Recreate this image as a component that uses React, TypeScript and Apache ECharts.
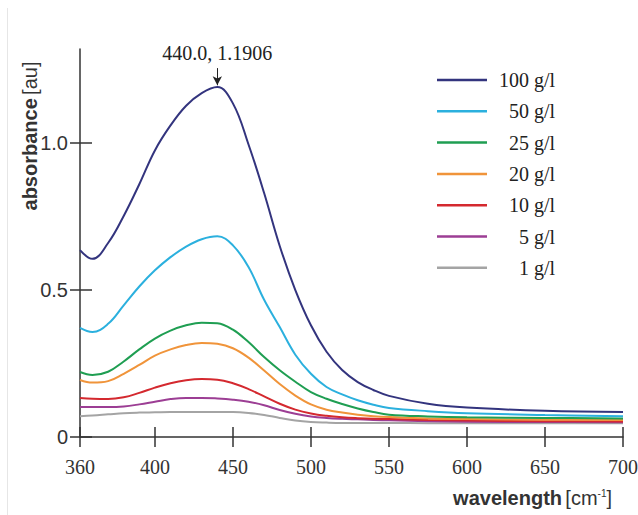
import React, { useEffect, useRef } from "react";
import * as echarts from "echarts";

const wavelengths = [352, 360, 370, 380, 390, 400, 410, 420, 430, 440, 450, 460, 470, 480, 490, 500, 510, 520, 530, 540, 550, 575, 600, 650, 700];

const s100 = [0.636, 0.606, 0.66, 0.752, 0.86, 0.975, 1.06, 1.127, 1.17, 1.1906, 1.135, 0.995, 0.83, 0.65, 0.5, 0.38, 0.29, 0.228, 0.187, 0.16, 0.14, 0.113, 0.1, 0.089, 0.085];
const s50 = [0.371, 0.357, 0.385, 0.448, 0.512, 0.567, 0.612, 0.648, 0.673, 0.683, 0.652, 0.578, 0.467, 0.374, 0.28, 0.215, 0.17, 0.145, 0.125, 0.11, 0.099, 0.088, 0.081, 0.075, 0.071];
const s25 = [0.221, 0.211, 0.222, 0.257, 0.298, 0.335, 0.362, 0.38, 0.389, 0.387, 0.365, 0.323, 0.272, 0.227, 0.188, 0.153, 0.13, 0.112, 0.097, 0.085, 0.076, 0.07, 0.067, 0.065, 0.063];
const s20 = [0.194, 0.185, 0.19, 0.215, 0.245, 0.277, 0.298, 0.313, 0.32, 0.317, 0.302, 0.27, 0.226, 0.18, 0.141, 0.111, 0.093, 0.083, 0.076, 0.071, 0.068, 0.063, 0.061, 0.059, 0.058];
const s10 = [0.133, 0.13, 0.129, 0.135, 0.15, 0.168, 0.183, 0.193, 0.197, 0.195, 0.183, 0.163, 0.138, 0.113, 0.093, 0.08, 0.072, 0.067, 0.064, 0.062, 0.061, 0.058, 0.056, 0.054, 0.053];
const s5 = [0.102, 0.102, 0.102, 0.104, 0.111, 0.12, 0.129, 0.133, 0.133, 0.131, 0.127, 0.12, 0.108, 0.092, 0.079, 0.07, 0.065, 0.062, 0.06, 0.058, 0.057, 0.054, 0.052, 0.051, 0.05];
const s1 = [0.071, 0.073, 0.077, 0.081, 0.083, 0.084, 0.085, 0.085, 0.085, 0.085, 0.085, 0.082, 0.075, 0.065, 0.056, 0.051, 0.049, 0.048, 0.048, 0.048, 0.048, 0.047, 0.047, 0.047, 0.047];

const seriesNames = ["100 g/l", "50 g/l", "25 g/l", "20 g/l", "10 g/l", "5 g/l", "1 g/l"];
const seriesValues = [s100, s50, s25, s20, s10, s5, s1];
const seriesColors = ["#33347e", "#2bb0de", "#1f9e52", "#f0943a", "#d4292f", "#9c3e94", "#a4a4a4"];

const xTicks = [352, 400, 450, 500, 550, 600, 650, 700];
const xTickLabels = ["360", "400", "450", "500", "550", "600", "650", "700"];
const yTicks = [0, 0.5, 1.0];
const yTickLabels = ["0", "0.5", "1.0"];

const peak = { x: 440, y: 1.1906, label: "440.0, 1.1906" };

const SERIF = "Liberation Serif";
const SANS = "Liberation Sans";

export default function App() {
  const ref = useRef<HTMLDivElement>(null);
  useEffect(() => {
    if (!ref.current) return;
    const chart = echarts.init(ref.current, undefined, { renderer: "svg" });
    const axisColor = "#333";
    const xMin = 352, xMax = 700, yMin = 0, yMax = 1.32;

    const series: any[] = seriesNames.map((name, i) => ({
      name,
      type: "line",
      data: wavelengths.map((w, j) => [w, seriesValues[i][j]]),
      smooth: 0.4,
      showSymbol: false,
      symbol: "none",
      lineStyle: { color: seriesColors[i], width: 2 },
      itemStyle: { color: seriesColors[i] },
      z: 10 - i,
    }));
    series[0].markLine = {
      silent: true,
      symbol: ["none", "arrow"],
      symbolSize: [7, 9],
      lineStyle: { color: "#222", width: 1, type: "solid" },
      label: {
        show: true,
        position: "start",
        formatter: peak.label,
        fontFamily: SERIF,
        fontSize: 20,
        color: "#222",
        distance: 5,
      },
      data: [[{ coord: [peak.x, 1.255] }, { coord: [peak.x, peak.y + 0.006] }]],
    };

    const legendGraphics: any[] = [];
    seriesNames.forEach((name, i) => {
      const y = 80 + 31.3 * i;
      legendGraphics.push({
        type: "line",
        shape: { x1: 437, y1: y, x2: 487, y2: y },
        style: { stroke: seriesColors[i], lineWidth: 2.5 },
      });
      legendGraphics.push({
        type: "text",
        x: 555,
        y: y,
        style: {
          text: name,
          textAlign: "right",
          textVerticalAlign: "middle",
          fontFamily: SERIF,
          fontSize: 20,
          fill: "#222",
        },
      });
    });

    const fmtY = (v: number) => {
      const k = yTicks.findIndex((t) => Math.abs(t - v) < 1e-6);
      return k >= 0 ? yTickLabels[k] : "";
    };

    const staticGraphics: any[] = [
      {
        type: "line",
        shape: { x1: 7.5, y1: 8, x2: 7.5, y2: 515 },
        style: { stroke: "#e6e6e6", lineWidth: 1 },
      },
      {
        type: "text",
        x: 30,
        y: 136,
        rotation: Math.PI / 2,
        style: {
          text: "{b|absorbance} {n|[au]}",
          textAlign: "center",
          textVerticalAlign: "middle",
          rich: {
            b: { fontFamily: SANS, fontSize: 20, fontWeight: "bold", fill: "#333", color: "#333" },
            n: { fontFamily: SANS, fontSize: 20, fill: "#333", color: "#333" },
          },
        },
      },
      {
        type: "text",
        x: 612,
        y: 498,
        style: {
          text: "{b|wavelength} {n|[cm}{s|-1}{n|]}",
          textAlign: "right",
          textVerticalAlign: "middle",
          rich: {
            b: { fontFamily: SANS, fontSize: 20, fontWeight: "bold", fill: "#333", color: "#333" },
            n: { fontFamily: SANS, fontSize: 20, fill: "#333", color: "#333" },
            s: { fontFamily: SANS, fontSize: 10, fill: "#333", color: "#333", verticalAlign: "top", padding: [0, 0, 10, 0] },
          },
        },
      },
      ...legendGraphics,
    ];

    chart.setOption({
      animation: false,
      backgroundColor: "#ffffff",
      grid: { left: 80, right: 15, top: 49, bottom: 78, containLabel: false },
      xAxis: [
        {
          type: "value",
          min: xMin,
          max: xMax,
          axisLine: { show: true, lineStyle: { color: axisColor, width: 1.5 } },
          axisTick: { show: true, inside: false, length: 10, customValues: xTicks, lineStyle: { color: axisColor, width: 1.5 } },
          axisLabel: { show: false },
          splitLine: { show: false },
        },
        {
          type: "value",
          min: xMin,
          max: xMax,
          position: "bottom",
          axisLine: { show: false },
          axisTick: { show: true, inside: true, length: 10, customValues: xTicks, lineStyle: { color: axisColor, width: 1.5 } },
          axisLabel: { show: false },
          splitLine: { show: false },
        },
      ],
      yAxis: [
        {
          type: "value",
          min: yMin,
          max: yMax,
          axisLine: { show: true, lineStyle: { color: axisColor, width: 1.5 } },
          axisTick: { show: true, inside: false, length: 10, customValues: yTicks, lineStyle: { color: axisColor, width: 1.5 } },
          axisLabel: {
            show: true,
            customValues: yTicks,
            formatter: fmtY,
            fontFamily: SANS,
            fontSize: 20,
            color: "#333",
            margin: 12,
          },
          splitLine: { show: false },
        },
        {
          type: "value",
          min: yMin,
          max: yMax,
          position: "left",
          axisLine: { show: false },
          axisTick: { show: true, inside: true, length: 12, customValues: yTicks, lineStyle: { color: axisColor, width: 1.5 } },
          axisLabel: { show: false },
          splitLine: { show: false },
        },
      ],
      series,
      graphic: staticGraphics,
    });

    const y0 = chart.convertToPixel({ yAxisIndex: 0 }, 0) as number;
    const xLabelGraphics = xTicks.map((t, i) => ({
      type: "text",
      x: chart.convertToPixel({ xAxisIndex: 0 }, t) as number,
      y: y0 + 30,
      style: {
        text: xTickLabels[i],
        textAlign: "center",
        textVerticalAlign: "middle",
        fontFamily: SERIF,
        fontSize: 20,
        fill: "#333",
      },
    }));
    chart.setOption({ graphic: [...staticGraphics, ...xLabelGraphics] });

    return () => chart.dispose();
  }, []);
  return <div ref={ref} style={{ position: "absolute", left: 0, top: 0, width: 638, height: 515 }} />;
}
